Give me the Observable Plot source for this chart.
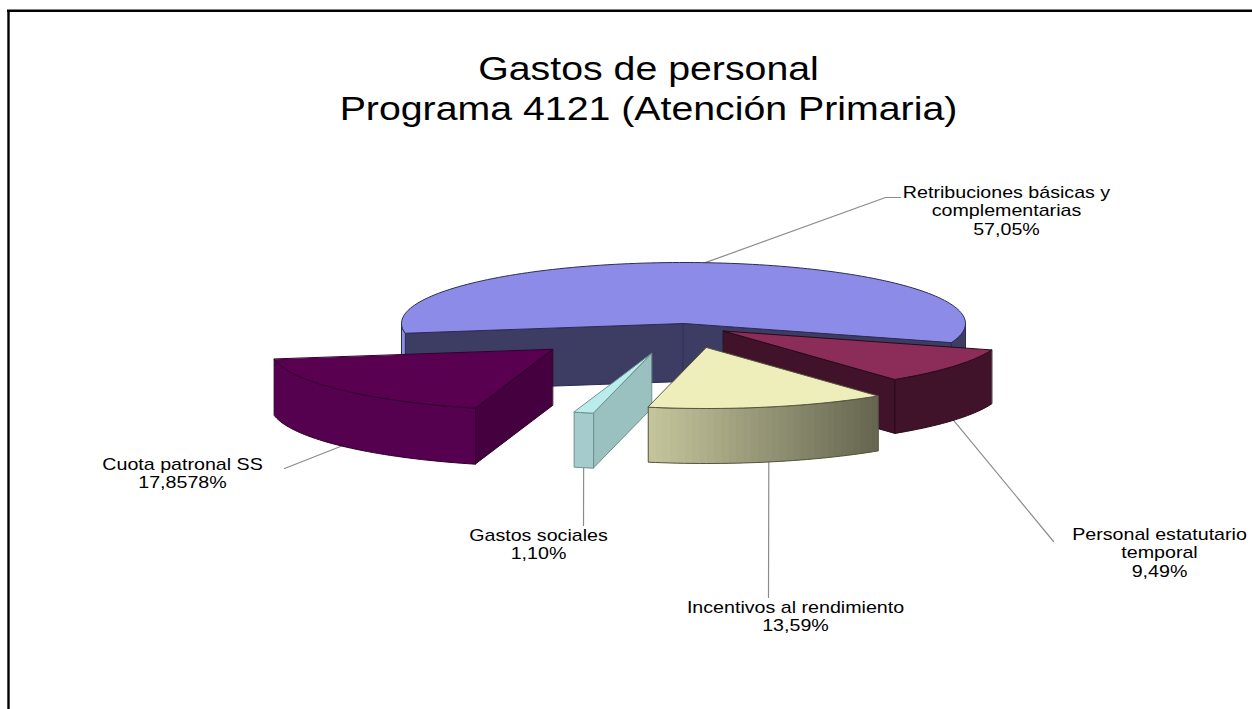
<!DOCTYPE html>
<html>
<head>
<meta charset="utf-8">
<script src="https://cdn.jsdelivr.net/npm/d3@7"></script>
<script src="https://cdn.jsdelivr.net/npm/@observablehq/plot@0.6"></script>
<style>
html,body{margin:0;padding:0;background:#fff;overflow:hidden}
svg{display:block;background:#fff}
</style>
</head>
<body>
<div id="chart"></div>
<script>
// DATA
const categories = ["Retribuciones básicas y\ncomplementarias", "Personal estatutario\ntemporal", "Incentivos al rendimiento", "Gastos sociales", "Cuota patronal SS"];
const shares = [57.05, 9.49, 13.59, 1.10, 17.8578];
const shareLabels = ["57,05%", "9,49%", "13,59%", "1,10%", "17,8578%"];
const titleLines = ["Gastos de personal", "Programa 4121 (Atención Primaria)"];

// STYLE AND LAYOUT
const W = 1252, H = 709;
const center = [683, 323], rx = 282, ry = 61, startDeg = 170.8;
const explode = [[0, 0], [40, 7.5], [23, 24], [-32, 30], [-131, 26]];
const depth = [58, 54, 55, 55, 56];
const topFill = ["#8c8ce8", "#8b2c59", "#eeeebb", "#b9eceb", "#5a0050"];
const sideFill = ["#3d3c63", "#40132a", "#67674f", "#9ac0c0", "#44003f"];
const outerFrom = ["#8c8ce8", "#40132a", "#c6c69d", "#a5cccc", "#560050"];
const outerTo = ["#3d3c63", "#40132a", "#656550", "#a5cccc", "#560050"];
const edge = ["#2c2c55", "#2a0a1a", "#55553f", "#6f8f8f", "#30002c"];
const labelAt = [[1006, 192], [1159, 534], [795, 607], [538, 535], [182, 464]];
const leaderEnd = [[[885, 197], [900, 197]], [[1053, 541]], [[768, 597]], [[583, 525]], [[284, 468]]];
const drawOrder = [0, 4, 3, 1, 2];
const linePitch = 18.4, titleAt = [648, 68.5], titlePitch = 40;
const labelStretch = 1.155, titleStretch = 1.155;

// Slice angles come from the values
const rad = Math.PI / 180;
const arcs = d3.pie().sort(null).startAngle(startDeg * rad).endAngle((startDeg + 360) * rad)(shares);
const slices = shares.map((v, i) => {
  const a0 = arcs[i].startAngle, a1 = arcs[i].endAngle;
  const ax = center[0] + explode[i][0], ay = center[1] + explode[i][1];
  const at = (a, drop = 0) => ({x: ax + rx * Math.cos(a), y: ay + ry * Math.sin(a) + drop});
  return {i, a0, a1, ax, ay, d: depth[i], at, mid: (a0 + a1) / 2};
});
const arcPts = (s, from, to, drop = 0) => {
  const n = Math.max(2, Math.ceil((to - from) / (rad * 1.5)));
  return d3.range(n + 1).map(k => s.at(from + (to - from) * k / n, drop));
};
const poly = (pts, fill, stroke, w = 1) =>
  Plot.line(pts, {x: "x", y: "y", curve: "linear-closed", fill, stroke, strokeWidth: w});

function sliceMarks(s) {
  const m = [], i = s.i;
  const apex = {x: s.ax, y: s.ay}, apexLow = {x: s.ax, y: s.ay + s.d};
  // radial walls facing the viewer
  for (const a of [s.a0, s.a1]) {
    const vis = a === s.a0 ? Math.cos(a) < 0 : Math.cos(a) > 0;
    if (vis) m.push(poly([apex, s.at(a), s.at(a, s.d), apexLow], sideFill[i], edge[i]));
  }
  // outer wall: the parts of the rim on the near side, shaded across their width
  const ranges = [];
  for (let k = 0; k < 2; k++) {
    const lo = Math.max(s.a0, 2 * Math.PI * k), hi = Math.min(s.a1, Math.PI + 2 * Math.PI * k);
    if (hi > lo) ranges.push([lo, hi]);
  }
  const xs = ranges.flatMap(([lo, hi]) => [s.at(lo).x, s.at(hi).x]);
  const xMin = d3.min(xs), xMax = d3.max(xs);
  const shade = d3.interpolateRgb(outerFrom[i], outerTo[i]);
  for (const [lo, hi] of ranges) {
    const pts = arcPts(s, lo, hi), low = arcPts(s, lo, hi, s.d);
    if (outerFrom[i] === outerTo[i]) {
      m.push(poly([...pts, ...[...low].reverse()], outerFrom[i], "none"));
    } else {
      // Each strip runs on under the next, so no seams show between them
      for (let k = 0; k < pts.length - 1; k++) {
        const c = shade((((pts[k].x + pts[k + 1].x) / 2) - xMin) / (xMax - xMin));
        const e = Math.min(k + 2, pts.length - 1);
        m.push(poly([pts[k], pts[e], low[e], low[k]], c, "none"));
      }
    }
    m.push(Plot.line([...pts, ...[...low].reverse()], {x: "x", y: "y", curve: "linear-closed", stroke: edge[i], strokeWidth: 1, fill: "none"}));
  }
  // top face
  m.push(poly([apex, ...arcPts(s, s.a0, s.a1)], topFill[i], edge[i]));
  return m;
}

// Leader lines start at the middle of each slice's rim
const leaders = slices.flatMap(s => {
  const low = Math.sin(s.mid) > 0 ? s.d : 0;
  const start = s.at(s.mid, low);
  return [start, ...leaderEnd[s.i].map(([x, y]) => ({x, y}))].map(p => ({...p, k: s.i}));
});
const labels = categories.flatMap((c, i) =>
  [...c.split("\n"), shareLabels[i]].map((text, j) => ({text, x: labelAt[i][0], y: labelAt[i][1] + j * linePitch})));
const titles = titleLines.map((text, j) => ({text, x: titleAt[0], y: titleAt[1] + j * titlePitch}));

const plot = Plot.plot({
  width: W, height: H, margin: 0,
  x: {domain: [0, W], axis: null},
  y: {domain: [H, 0], axis: null},
  style: {background: "#fff", fontFamily: "'Liberation Sans', Arial, sans-serif"},
  marks: [
    Plot.ruleX([8], {y1: 10, y2: H, stroke: "#000", strokeWidth: 2.4}),
    Plot.ruleY([10.3], {x1: 7, x2: W, stroke: "#000", strokeWidth: 2.4}),
    Plot.line(leaders, {x: "x", y: "y", z: "k", stroke: "#8c8c8c", strokeWidth: 1.2}),
    ...drawOrder.flatMap(i => sliceMarks(slices[i])),
    Plot.text(labels, {x: "x", y: "y", text: "text", fontSize: 17, fill: "#000", textAnchor: "middle", className: "lbl"}),
    Plot.text(titles, {x: "x", y: "y", text: "text", fontSize: 34, fill: "#000", textAnchor: "middle", className: "ttl"})
  ]
});
document.getElementById("chart").appendChild(plot);
// The reference's type is wider than the installed face: widen each line to match.
const widen = (sel, f) => plot.querySelectorAll(sel).forEach(t => {
  t.setAttribute("textLength", t.getComputedTextLength() * f);
  t.setAttribute("lengthAdjust", "spacingAndGlyphs");
});
widen(".lbl text", labelStretch);
widen(".ttl text", titleStretch);
</script>
</body>
</html>
